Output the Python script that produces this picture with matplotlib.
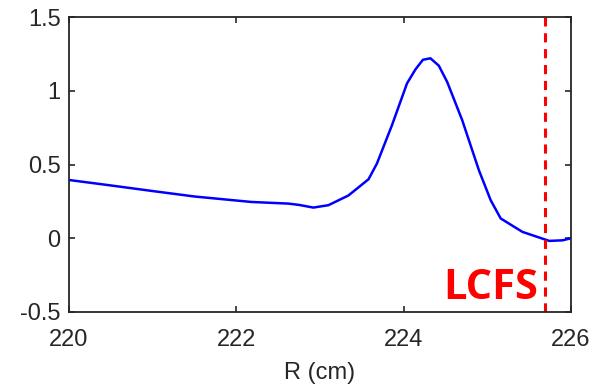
import numpy as np
from matplotlib import pyplot as plt

r_cm = [220.0, 220.5, 221.0, 221.5, 222.18, 222.62, 222.75, 222.92, 223.10, 223.34,
        223.58, 223.68, 223.86, 224.04, 224.14, 224.23, 224.32, 224.42, 224.52,
        224.70, 224.90, 225.04, 225.16, 225.42, 225.74, 225.90, 226.0]
signal = [0.395, 0.358, 0.320, 0.283, 0.246, 0.235, 0.226, 0.208, 0.224, 0.29,
          0.40, 0.506, 0.766, 1.05, 1.144, 1.21, 1.22, 1.17, 1.06,
          0.80, 0.46, 0.258, 0.134, 0.043, -0.018, -0.014, 0.0]
lcfs_r = 225.69

x_ticks = [220, 222, 224, 226]
y_ticks = [-0.5, 0, 0.5, 1, 1.5]
y_tick_labels = ["-0.5", "0", "0.5", "1", "1.5"]

plt.rcParams['font.family'] = ['Liberation Sans', 'DejaVu Sans']
fig = plt.figure(figsize=(5.96, 3.85), dpi=100)
ax = fig.add_axes([69 / 596, 1 - 312 / 385, (571 - 69) / 596, (312 - 17) / 385])

ax.plot(r_cm, signal, color='#0000ff', lw=1.8)
ax.axvline(lcfs_r, color='#ff0000', lw=2.2, ls=(0, (3, 2.2)))
ax.text(lcfs_r - 0.08, -0.48, "LCFS", color='#ff0000', fontsize=30, fontweight='bold',
        ha='right', va='bottom', family=['Open Sans', 'DejaVu Sans'])

ax.set_xlim(220, 226)
ax.set_ylim(-0.5, 1.5)
ax.set_xticks(x_ticks)
ax.set_yticks(y_ticks)
ax.set_yticklabels(y_tick_labels)
ax.tick_params(direction='in', top=True, right=True, labelsize=17, colors='#262626',
               length=4, width=1.2)
ax.tick_params(axis='x', pad=12)
ax.tick_params(axis='y', pad=6)
for s in ax.spines.values():
    s.set_color('#262626')
    s.set_linewidth(1.3)
ax.set_xlabel("R (cm)", fontsize=17, color='#262626', labelpad=8)
# y label is mostly cut off at the left edge in the original
fig.text(4 / 596, 0.44, "$\\tilde{n}_e$", rotation=90, fontsize=17, color='#262626',
         ha='right', va='center')

fig.savefig("out.png", dpi=100)
